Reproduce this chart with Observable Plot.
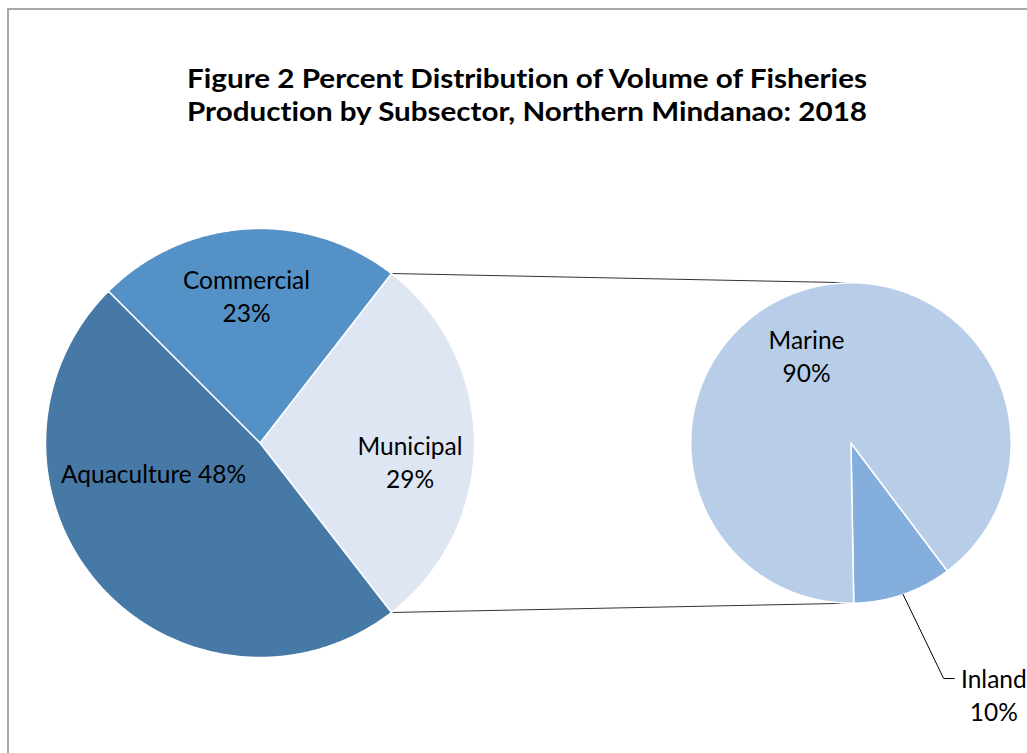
<!DOCTYPE html>
<html>
<head>
<meta charset="utf-8">
<script src="https://cdn.jsdelivr.net/npm/d3@7"></script>
<script src="https://cdn.jsdelivr.net/npm/@observablehq/plot@0.6"></script>
<style>
  html, body { margin: 0; padding: 0; background: #fff; overflow: hidden; }
  #wrap { position: relative; width: 1027px; height: 753px; }
  #border { position: absolute; left: 7px; top: 8px; width: 2000px; height: 2000px;
            border-left: 2px solid #a8a8a8; border-top: 2px solid #a8a8a8; pointer-events: none; }
  svg { display: block; font-variant-ligatures: none; }
</style>
</head>
<body>
<div id="wrap"><div id="border"></div></div>
<script>
// ---- data ----
const titleLines = ["Figure 2 Percent Distribution of Volume of Fisheries", "Production by Subsector, Northern Mindanao: 2018"];
const subsectors = ["Municipal", "Commercial", "Aquaculture"];
const subsectorShares = [29, 23, 48];
const subsectorColors = ["#DEE6F3", "#5491C6", "#4779A7"];
const municipalParts = ["Inland", "Marine"];
const municipalShares = [10, 90];
const municipalColors = ["#84AEDB", "#B8CEE8"];

// ---- layout (pixels per unit, pie centres, label placements) ----
const W = 1027, H = 753;
const PX = 214.5;                 // pixels per unit (left pie radius = 1)
const ORIGIN = [259.5, 442.5];    // left pie centre, in pixels
const right = {cx: 2.755, cy: 0, r: 0.747};
const left = {cx: 0, cy: 0, r: 1};
const leftStart = -subsectorShares[0] / 100 * 180;  // split slice centred on the east
const rightStart = -89;
// label polar placement relative to each pie: [radius fraction, angle deg]
const leftLabelPolar = {Municipal: [0.704, -6.65], Commercial: [0.695, 95.2], Aquaculture: [0.515, 195.5]};
const rightLabelPolar = {Marine: [0.617, 116.7], Inland: [1.800, -60.3]};

const rad = d => d * Math.PI / 180;
function buildPie(names, values, colors, pie, start, pieId) {
  const total = d3.sum(values);
  const pts = [], info = [];
  let a = start;
  names.forEach((n, i) => {
    const span = values[i] / total * 360;
    pts.push({id: pieId + n, color: colors[i], x: pie.cx, y: pie.cy});
    const steps = Math.max(2, Math.ceil(span / 0.5));
    for (let k = 0; k <= steps; k++) {
      const t = rad(a + span * k / steps);
      pts.push({id: pieId + n, color: colors[i], x: pie.cx + pie.r * Math.cos(t), y: pie.cy + pie.r * Math.sin(t)});
    }
    pts.push({id: pieId + n, color: colors[i], x: pie.cx, y: pie.cy});
    info.push({name: n, value: values[i], a0: a, a1: a + span});
    a += span;
  });
  return {pts, info};
}
const L = buildPie(subsectors, subsectorShares, subsectorColors, left, leftStart, "L-");
const R = buildPie(municipalParts, municipalShares, municipalColors, right, rightStart, "R-");

// connectors: split slice edges -> top/bottom of second pie
const split = L.info[0];
const connectors = [
  {x1: Math.cos(rad(split.a1)), y1: Math.sin(rad(split.a1)), x2: right.cx, y2: right.cy + right.r},
  {x1: Math.cos(rad(split.a0)), y1: Math.sin(rad(split.a0)), x2: right.cx, y2: right.cy - right.r}
];

function labelAt(pie, polar) {
  const [f, ang] = polar;
  return {x: pie.cx + pie.r * f * Math.cos(rad(ang)), y: pie.cy + pie.r * f * Math.sin(rad(ang))};
}
const labels = [];
L.info.forEach(s => {
  const p = labelAt(left, leftLabelPolar[s.name]);
  const txt = s.name === "Aquaculture" ? `${s.name} ${s.value}%` : `${s.name}\n${s.value}%`;
  labels.push({...p, name: s.name, text: txt});
});
R.info.forEach(s => {
  const p = labelAt(right, rightLabelPolar[s.name]);
  labels.push({...p, name: s.name, text: `${s.name}\n${s.value}%`});
});

// inland leader line: slice mid-edge -> elbow -> label
const inl = R.info.find(d => d.name === "Inland");
const mid = rad((inl.a0 + inl.a1) / 2);
const inlLabel = labels.find(d => d.name === "Inland");
const leader = [
  {x: right.cx + right.r * Math.cos(mid), y: right.cy + right.r * Math.sin(mid)},
  {x: inlLabel.x - 50.2 / PX, y: inlLabel.y + 15 / PX},
  {x: inlLabel.x - 39.5 / PX, y: inlLabel.y + 15 / PX}
];

const titleStyle = {frameAnchor: "top", dx: 13, lineAnchor: "bottom", fontSize: 27, fontWeight: "bold", fill: "#000", className: "ttl"};
const chart = Plot.plot({
  width: W, height: H, margin: 0,
  x: {axis: null, domain: [-ORIGIN[0] / PX, (W - ORIGIN[0]) / PX], range: [0, W]},
  y: {axis: null, domain: [-(H - ORIGIN[1]) / PX, ORIGIN[1] / PX], range: [H, 0]},
  color: {type: "identity"},
  style: {fontFamily: "Lato, 'Open Sans', sans-serif", background: "transparent"},
  marks: [
    Plot.link(connectors, {x1: "x1", y1: "y1", x2: "x2", y2: "y2", stroke: "#333", strokeWidth: 1}),
    Plot.line(L.pts, {x: "x", y: "y", z: "id", fill: "color", stroke: "white", strokeWidth: 1.5, curve: "linear"}),
    Plot.line(R.pts, {x: "x", y: "y", z: "id", fill: "color", stroke: "white", strokeWidth: 1.5, curve: "linear"}),
    Plot.line(leader, {x: "x", y: "y", stroke: "#000", strokeWidth: 1}),
    Plot.text(labels, {x: "x", y: "y", text: "text", fontSize: 24.5, lineHeight: 1.36, fill: "#000"}),
    Plot.text([titleLines[0]], {...titleStyle, dy: 87}),
    Plot.text([titleLines[1]], {...titleStyle, dy: 120})
  ]
});
d3.select(chart).selectAll("g.ttl text")
  .attr("textLength", 680).attr("lengthAdjust", "spacingAndGlyphs");
document.getElementById("wrap").prepend(chart);
</script>
</body>
</html>
